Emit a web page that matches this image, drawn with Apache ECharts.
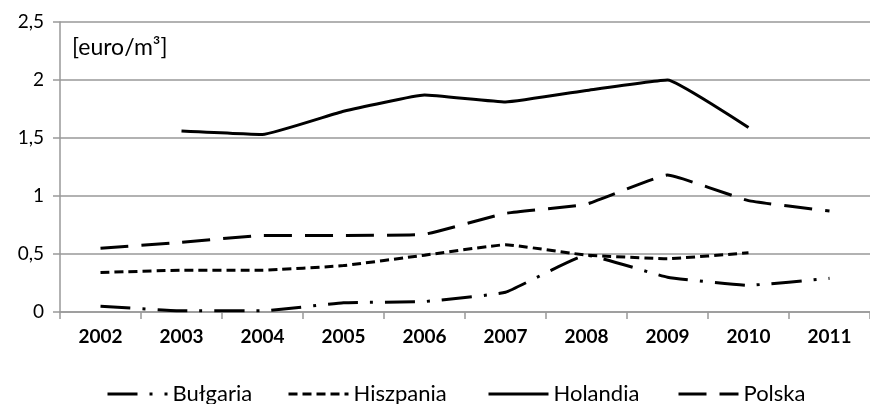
<!DOCTYPE html>
<html>
<head>
<meta charset="utf-8">
<script src="https://cdn.jsdelivr.net/npm/echarts@6/dist/echarts.min.js"></script>
<style>html,body{margin:0;padding:0;background:#fff;}#c{width:870px;height:404px;}</style>
</head>
<body>
<div id="c"></div>
<script>
var years = ['2002','2003','2004','2005','2006','2007','2008','2009','2010','2011'];
var yTicks = [0, 0.5, 1, 1.5, 2, 2.5];
var bulgaria  = [0.05, 0.01, 0.01, 0.08, 0.09, 0.17, 0.49, 0.30, 0.23, 0.29];
var hiszpania = [0.34, 0.36, 0.36, 0.40, 0.49, 0.58, 0.49, 0.46, 0.51, null];
var holandia  = [null, 1.56, 1.53, 1.73, 1.87, 1.81, 1.91, 2.00, 1.59, null];
var polska    = [0.55, 0.60, 0.66, 0.66, 0.67, 0.85, 0.93, 1.18, 0.96, 0.87];
var unitLabel = '[euro/m³]';

var FONT = 'Lato';
var chart = echarts.init(document.getElementById('c'), null, {renderer: 'canvas'});

function mkSeries(name, data, dash) {
  return {
    name: name, type: 'line', data: data, symbol: 'none', smooth: 0.1,
    lineStyle: {color: '#000', width: 3, type: dash, cap: 'butt'},
    itemStyle: {color: '#000'},
    emphasis: {disabled: true}
  };
}
function mkLegend(name, left) {
  return {
    data: [name], left: left, top: 378, itemWidth: 60, itemHeight: 14, itemGap: 4,
    itemStyle: {opacity: 0},
    lineStyle: {width: 3},
    textStyle: {fontFamily: FONT, fontSize: 22, color: '#000'},
    selectedMode: false
  };
}

chart.setOption({
  animation: false,
  backgroundColor: '#fff',
  grid: {left: 60, right: -6, top: 22, bottom: 92},
  legend: [mkLegend('Bułgaria', 101), mkLegend('Hiszpania', 282), mkLegend('Holandia', 482), mkLegend('Polska', 672)],
  graphic: [{type: 'text', left: 72, top: 36, style: {text: unitLabel, font: '23px ' + FONT, fill: '#000'}}],
  xAxis: {
    type: 'category', data: years, boundaryGap: true,
    axisLine: {lineStyle: {color: '#999', width: 1.5}},
    axisTick: {show: true, length: 7, lineStyle: {color: '#999', width: 1.5}},
    axisLabel: {fontFamily: FONT, fontWeight: 'bold', fontSize: 19, color: '#000', margin: 15}
  },
  yAxis: {
    type: 'value', min: yTicks[0], max: yTicks[yTicks.length - 1], interval: 0.5,
    axisLine: {show: true, lineStyle: {color: '#999', width: 1.5}},
    axisTick: {show: true, length: 7, lineStyle: {color: '#999', width: 1.5}},
    splitLine: {lineStyle: {color: '#999', width: 1.5}},
    axisLabel: {fontFamily: FONT, fontSize: 19, color: '#000', margin: 16,
      formatter: function (v) { return String(v).replace('.', ','); }}
  },
  series: [
    mkSeries('Bułgaria', bulgaria, [30, 12, 3, 12]),
    mkSeries('Hiszpania', hiszpania, [9, 5]),
    mkSeries('Holandia', holandia, 'solid'),
    mkSeries('Polska', polska, [28, 13])
  ]
});
</script>
</body>
</html>
